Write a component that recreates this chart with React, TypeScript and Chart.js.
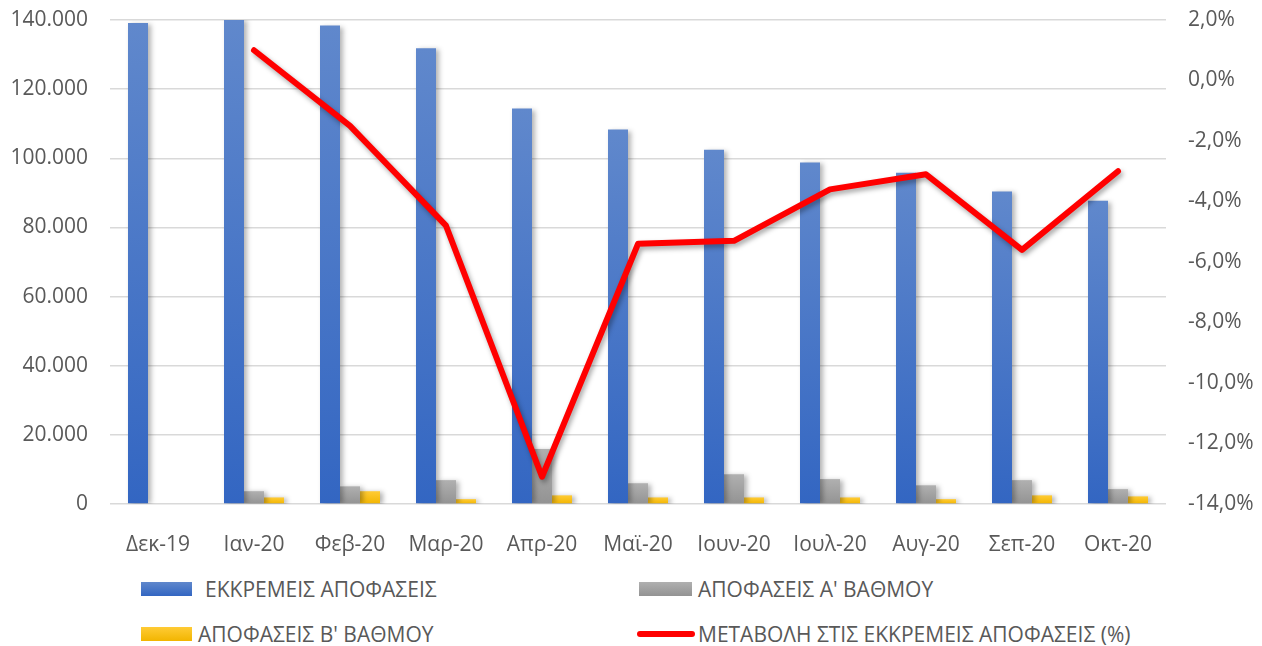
import React, { useEffect, useRef } from "react";
import { Chart, registerables } from "chart.js";

Chart.register(...registerables);

const categories = ["Δεκ-19", "Ιαν-20", "Φεβ-20", "Μαρ-20", "Απρ-20", "Μαϊ-20", "Ιουν-20", "Ιουλ-20", "Αυγ-20", "Σεπ-20", "Οκτ-20"];
const pendingDecisions = [139100, 140400, 138400, 131800, 114400, 108300, 102500, 98800, 95800, 90400, 87700];
const firstInstanceDecisions = [null, 3700, 5100, 6900, 15900, 6000, 8600, 7200, 5400, 6900, 4300];
const secondInstanceDecisions = [null, 1900, 3700, 1400, 2500, 1900, 1900, 1900, 1400, 2500, 2200];
const changeInPendingPct = [null, 1.0, -1.5, -4.8, -13.1, -5.4, -5.3, -3.6, -3.1, -5.6, -3.0];

const seriesLabels = [
  "ΕΚΚΡΕΜΕΙΣ ΑΠΟΦΑΣΕΙΣ",
  "ΑΠΟΦΑΣΕΙΣ Α' ΒΑΘΜΟΥ",
  "ΑΠΟΦΑΣΕΙΣ Β' ΒΑΘΜΟΥ",
  "ΜΕΤΑΒΟΛΗ ΣΤΙΣ ΕΚΚΡΕΜΕΙΣ ΑΠΟΦΑΣΕΙΣ (%)",
];

const leftMin = 0;
const leftMax = 140000;
const leftStep = 20000;
const rightMin = -14;
const rightMax = 2;
const rightStep = 2;

const FONT = "'Open Sans', 'Noto Sans', sans-serif";
const TEXT_COLOR = "#595959";

function barGradient(top: string, bottom: string) {
  return (ctx: any) => {
    const chart = ctx.chart;
    const y = chart.scales && chart.scales.y;
    const v = ctx.raw;
    if (!y || v == null || !chart.chartArea) return bottom;
    const y0 = y.getPixelForValue(0);
    const y1 = y.getPixelForValue(Math.min(v, y.max));
    if (!isFinite(y0) || !isFinite(y1) || Math.abs(y0 - y1) < 1) return bottom;
    const g = chart.ctx.createLinearGradient(0, y1, 0, y0);
    g.addColorStop(0, top);
    g.addColorStop(1, bottom);
    return g;
  };
}

const shadowPlugin = {
  id: "shadowPlugin",
  beforeDatasetDraw(chart: any, args: any) {
    const ctx = chart.ctx;
    ctx.save();
    if (args.meta.type === "line") {
      ctx.shadowColor = "rgba(0,0,0,0.35)";
      ctx.shadowBlur = 5;
      ctx.shadowOffsetX = 2;
      ctx.shadowOffsetY = 3;
    } else {
      ctx.shadowColor = "rgba(0,0,0,0.3)";
      ctx.shadowBlur = 5;
      ctx.shadowOffsetX = 3;
      ctx.shadowOffsetY = 1;
    }
  },
  afterDatasetDraw(chart: any) {
    chart.ctx.restore();
  },
};

function formatThousands(v: number) {
  return String(Math.round(v)).replace(/\B(?=(\d{3})+(?!\d))/g, ".");
}

const fixVerticalWidth = (w: number) => (scale: any) => {
  scale.width = w;
  scale.paddingTop = 0;
  scale.paddingBottom = 0;
};

export default function App() {
  const canvasRef = useRef<HTMLCanvasElement | null>(null);

  useEffect(() => {
    if (!canvasRef.current) return;
    const chart = new Chart(canvasRef.current, {
      type: "bar",
      data: {
        labels: categories,
        datasets: [
          {
            type: "line",
            label: seriesLabels[3],
            data: changeInPendingPct,
            yAxisID: "y1",
            borderColor: "#ff0000",
            backgroundColor: "#ff0000",
            borderWidth: 6,
            pointRadius: 0,
            pointHoverRadius: 0,
            tension: 0,
            borderCapStyle: "round",
            borderJoinStyle: "round",
            order: 0,
            clip: false,
          } as any,
          {
            label: seriesLabels[0],
            data: pendingDecisions,
            yAxisID: "y",
            backgroundColor: barGradient("#6088cc", "#3366c2"),
            order: 1,
            clip: 0,
          } as any,
          {
            label: seriesLabels[1],
            data: firstInstanceDecisions,
            yAxisID: "y",
            backgroundColor: barGradient("#b0b0b0", "#939393"),
            order: 1,
            clip: 0,
          } as any,
          {
            label: seriesLabels[2],
            data: secondInstanceDecisions,
            yAxisID: "y",
            backgroundColor: barGradient("#ffcb35", "#f2b500"),
            order: 1,
            clip: 0,
          } as any,
        ],
      },
      options: {
        responsive: false,
        animation: false,
        layout: { padding: { top: 20, left: 0, right: 0, bottom: 0 } },
        datasets: {
          bar: { categoryPercentage: 0.625, barPercentage: 1.0 },
        } as any,
        plugins: {
          legend: { display: false },
          tooltip: { enabled: false },
          title: { display: false },
        },
        scales: {
          x: {
            grid: { display: false, drawTicks: false },
            border: { display: false },
            ticks: {
              font: { family: FONT, size: 21 },
              color: TEXT_COLOR,
              padding: 28,
              maxRotation: 0,
              autoSkip: false,
            },
            afterFit: (scale: any) => {
              scale.height = 56;
              scale.paddingLeft = 0;
              scale.paddingRight = 0;
            },
          },
          y: {
            position: "left",
            min: leftMin,
            max: leftMax,
            grid: { color: "#d9d9d9", lineWidth: 1.5, drawTicks: false },
            border: { display: false },
            ticks: {
              stepSize: leftStep,
              font: { family: FONT, size: 21 },
              color: TEXT_COLOR,
              padding: 22,
              callback: (v: any) => formatThousands(Number(v)),
            },
            afterFit: fixVerticalWidth(110),
          },
          y1: {
            position: "right",
            min: rightMin,
            max: rightMax,
            grid: { display: false, drawTicks: false },
            border: { display: false },
            ticks: {
              stepSize: rightStep,
              font: { family: FONT, size: 21 },
              color: TEXT_COLOR,
              padding: 22,
              callback: (v: any) => Number(v).toFixed(1).replace(".", ",") + "%",
            },
            afterFit: fixVerticalWidth(96),
          },
        },
      },
      plugins: [shadowPlugin],
    } as any);
    return () => chart.destroy();
  }, []);

  const textStyle: React.CSSProperties = {
    position: "absolute",
    fontFamily: FONT,
    fontSize: 21,
    lineHeight: "24px",
    color: TEXT_COLOR,
    whiteSpace: "nowrap",
  };

  return (
    <div style={{ position: "absolute", left: 0, top: 0, width: 1262, height: 646, background: "#ffffff", overflow: "hidden" }}>
      <canvas ref={canvasRef} width={1262} height={560} style={{ display: "block", width: 1262, height: 560 }} />
      <div style={{ position: "absolute", left: 141, top: 582, width: 51, height: 14, background: "linear-gradient(#6088cc, #3366c2)" }} />
      <div style={{ ...textStyle, left: 205, top: 577 }}>{seriesLabels[0]}</div>
      <div style={{ position: "absolute", left: 639, top: 582, width: 53, height: 14, background: "linear-gradient(#b0b0b0, #939393)" }} />
      <div style={{ ...textStyle, left: 698, top: 577 }}>{seriesLabels[1]}</div>
      <div style={{ position: "absolute", left: 141, top: 627, width: 51, height: 14, background: "linear-gradient(#ffcb35, #f2b500)" }} />
      <div style={{ ...textStyle, left: 198, top: 622 }}>{seriesLabels[2]}</div>
      <div style={{ position: "absolute", left: 637, top: 631, width: 58, height: 6, borderRadius: 3, background: "#ff0000" }} />
      <div style={{ ...textStyle, left: 698, top: 622 }}>{seriesLabels[3]}</div>
    </div>
  );
}
